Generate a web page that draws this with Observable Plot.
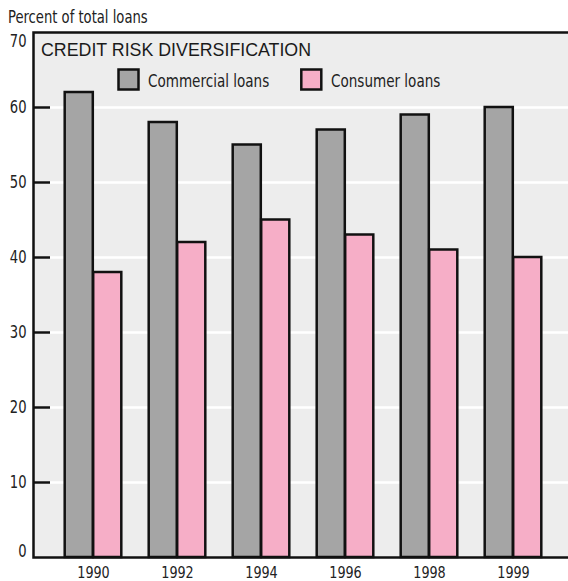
<!DOCTYPE html>
<html><head><meta charset="utf-8">
<script src="https://cdn.jsdelivr.net/npm/d3@7"></script>
<script src="https://cdn.jsdelivr.net/npm/@observablehq/plot@0.6"></script>
<style>
body{margin:0;background:#fff;}
#wrap{position:relative;width:568px;height:581px;overflow:hidden;}
#wrap > svg{position:absolute;left:0;top:0;}
</style></head><body><div id="wrap"></div>
<script>
const years = ["1990","1992","1994","1996","1998","1999"];
const commercial = [62,58,55,57,59,60];
const consumer = [38,42,45,43,41,40];
const yTicks = [0,10,20,30,40,50,60,70];
const series = ["Commercial loans","Consumer loans"];
const colors = ["#a5a5a5","#f6aec7"];
const titleText = "CREDIT RISK DIVERSIFICATION";
const yLabel = "Percent of total loans";

const W = 568, H = 581, mL = 33, mT = 32, mB = 24;
const x0 = 49.8, x1 = 556.2;
const step = (x1 - x0) / years.length;
const barW = 28.5;
const squeeze = 0.86;
const data = years.flatMap((y, i) => [
  {year: y, series: series[0], value: commercial[i]},
  {year: y, series: series[1], value: consumer[i]}
]);
const narrow = `"Liberation Sans Narrow","DejaVu Sans Condensed","Arial Narrow",sans-serif`;
const inner = yTicks.filter(v => v > 0 && v < 70);

const plot = Plot.plot({
  width: W, height: H, marginLeft: mL, marginRight: 0, marginTop: mT, marginBottom: mB,
  style: {fontFamily: narrow, fontSize: "17px", color: "#222", background: "transparent"},
  x: {type: "band", domain: years, range: [x0, x1], padding: 0, axis: null},
  y: {domain: [0, 70], axis: null},
  color: {domain: series, range: colors},
  marks: [
    Plot.frame({fill: "#ededed"}),
    Plot.ruleY(inner, {stroke: "#fff", strokeWidth: 2.5}),
    Plot.barY(data.filter(d => d.series === series[0]), {x: "year", y: "value", fill: "series", stroke: "#111", strokeWidth: 2.5, insetLeft: step / 2 - barW, insetRight: step / 2}),
    Plot.barY(data.filter(d => d.series === series[1]), {x: "year", y: "value", fill: "series", stroke: "#111", strokeWidth: 2.5, insetLeft: step / 2, insetRight: step / 2 - barW}),
    Plot.ruleY(inner, {stroke: "#111", strokeWidth: 2.5, insetRight: W - mL - 17}),
    Plot.frame({stroke: "#111", strokeWidth: 2.5, insetRight: -6}),
    Plot.text(inner, {y: d => d, text: d => String(d), frameAnchor: "left", dx: -7, textAnchor: "end", fill: "#222"}),
    Plot.text([70], {y: d => d, text: d => String(d), frameAnchor: "left", dx: -7, dy: 9, textAnchor: "end", fill: "#222"}),
    Plot.text([0], {y: d => d, text: d => String(d), frameAnchor: "left", dx: -7, dy: -6, textAnchor: "end", fill: "#222"}),
    Plot.text(years, {x: d => d, text: d => d, frameAnchor: "bottom", lineAnchor: "top", dy: 9, fontSize: 16.5, fill: "#222"})
  ]
});
const wrap = document.getElementById("wrap");
wrap.appendChild(plot);

// overlay: y label, title, legend
const ov = d3.select(wrap).append("svg").attr("width", W).attr("height", H).style("pointer-events", "none");
ov.append("text").attr("class", "nar").attr("x", 8).attr("y", 22.5).attr("font-family", narrow).attr("font-size", 17).attr("fill", "#222").text(yLabel);
ov.append("text").attr("x", 41).attr("y", 56).attr("font-family", `"Liberation Sans",Arial,sans-serif`).attr("font-size", 17.8).attr("fill", "#1a1a1a").text(titleText);
const legX = [118.5, 301.3], legTX = [148, 331];
series.forEach((s, i) => {
  ov.append("rect").attr("x", legX[i]).attr("y", 69.5).attr("width", 20).attr("height", 20)
    .attr("fill", colors[i]).attr("stroke", "#111").attr("stroke-width", 2.5);
  ov.append("text").attr("class", "nar").attr("x", legTX[i]).attr("y", 86.5).attr("font-family", narrow).attr("font-size", 17.5).attr("fill", "#222").text(s);
});

// condense the narrow-font texts (real text, glyphs squeezed horizontally)
const narrowTexts = [...plot.querySelectorAll("text"), ...ov.selectAll("text.nar").nodes()];
narrowTexts.forEach(el => {
  const w = el.getComputedTextLength();
  if (w > 0) {
    el.setAttribute("textLength", (w * squeeze).toFixed(2));
    el.setAttribute("lengthAdjust", "spacingAndGlyphs");
  }
});
</script></body></html>
